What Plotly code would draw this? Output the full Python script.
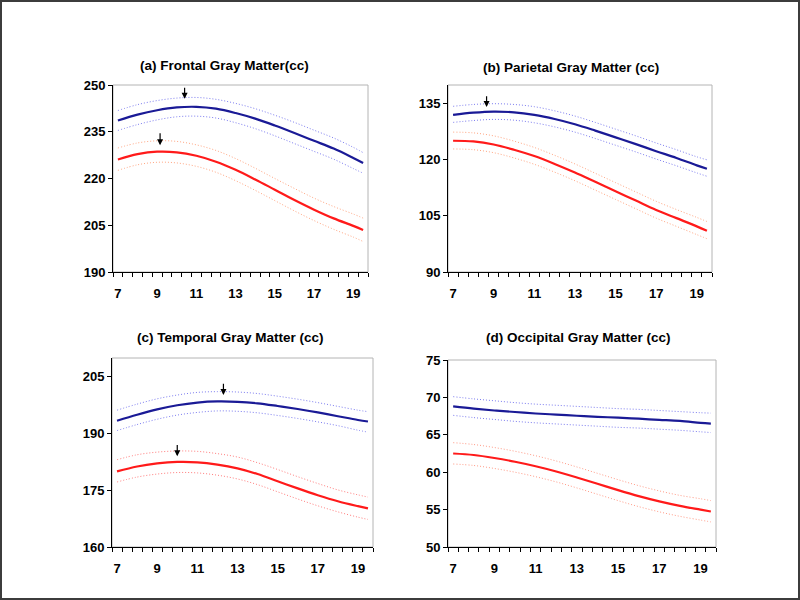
import plotly.graph_objects as go

# ---------------- data ----------------
ages = [7, 8, 9, 10, 11, 12, 13, 14, 15, 16, 17, 18, 19, 19.5]

# (a) Frontal
a_blue = [238.6, 240.5, 241.9, 242.8, 243.0, 242.4, 241.0, 239.2, 237.0, 234.6, 232.1, 229.6, 226.6, 225.0]
a_blue_hi = [241.8, 243.7, 245.0, 245.8, 246.0, 245.4, 244.1, 242.4, 240.3, 238.0, 235.5, 233.0, 230.0, 228.3]
a_blue_lo = [235.4, 237.3, 238.8, 239.8, 240.0, 239.4, 237.9, 236.0, 233.7, 231.2, 228.7, 226.2, 223.2, 221.7]
a_red = [226.1, 227.8, 228.6, 228.4, 227.3, 225.4, 222.8, 219.7, 216.4, 213.1, 210.0, 207.2, 204.8, 203.5]
a_red_hi = [229.8, 231.4, 232.1, 231.9, 230.8, 229.0, 226.4, 223.3, 220.0, 216.8, 213.7, 211.0, 208.6, 207.3]
a_red_lo = [222.6, 224.4, 225.2, 225.0, 223.9, 222.0, 219.3, 216.2, 212.9, 209.6, 206.5, 203.7, 201.2, 199.8]

# (b) Parietal
b_blue = [132.0, 132.6, 132.9, 132.7, 132.0, 130.9, 129.5, 127.8, 126.0, 124.2, 122.3, 120.5, 118.5, 117.6]
b_blue_hi = [134.3, 134.8, 135.0, 134.8, 134.2, 133.1, 131.7, 130.0, 128.2, 126.4, 124.5, 122.7, 120.8, 120.0]
b_blue_lo = [130.0, 130.5, 130.8, 130.6, 129.9, 128.8, 127.4, 125.7, 123.9, 122.1, 120.2, 118.4, 116.5, 115.6]
b_red = [125.1, 124.9, 124.1, 122.7, 121.0, 118.9, 116.6, 114.1, 111.6, 109.1, 106.6, 104.4, 102.2, 101.0]
b_red_hi = [127.4, 127.2, 126.4, 125.0, 123.3, 121.2, 118.9, 116.4, 113.9, 111.4, 108.9, 106.7, 104.6, 103.5]
b_red_lo = [122.9, 122.7, 121.9, 120.5, 118.8, 116.7, 114.4, 111.9, 109.4, 106.9, 104.4, 102.2, 100.0, 98.9]

# (c) Temporal
c_blue = [193.4, 195.0, 196.4, 197.5, 198.2, 198.5, 198.4, 198.0, 197.3, 196.5, 195.6, 194.6, 193.6, 193.2]
c_blue_hi = [196.2, 197.8, 199.2, 200.2, 200.9, 201.1, 201.0, 200.6, 199.9, 199.1, 198.2, 197.2, 196.2, 195.8]
c_blue_lo = [190.8, 192.4, 193.8, 194.9, 195.6, 196.0, 195.9, 195.5, 194.8, 194.0, 193.1, 192.1, 190.9, 190.4]
c_red = [180.0, 181.3, 182.1, 182.5, 182.4, 181.8, 180.8, 179.3, 177.4, 175.5, 173.7, 172.1, 170.8, 170.2]
c_red_hi = [183.1, 184.4, 185.1, 185.4, 185.3, 184.7, 183.8, 182.3, 180.5, 178.6, 176.8, 175.1, 173.8, 173.2]
c_red_lo = [177.2, 178.5, 179.3, 179.7, 179.6, 179.0, 178.0, 176.5, 174.6, 172.7, 170.9, 169.3, 167.9, 167.3]

# (d) Occipital
d_blue = [68.8, 68.5, 68.25, 68.05, 67.85, 67.7, 67.55, 67.4, 67.3, 67.15, 67.0, 66.85, 66.6, 66.5]
d_blue_hi = [70.1, 69.8, 69.55, 69.3, 69.1, 68.95, 68.8, 68.65, 68.5, 68.4, 68.25, 68.1, 67.95, 67.9]
d_blue_lo = [67.6, 67.3, 67.05, 66.8, 66.6, 66.45, 66.3, 66.15, 66.0, 65.9, 65.75, 65.6, 65.4, 65.3]
d_red = [62.5, 62.3, 61.9, 61.4, 60.8, 60.1, 59.3, 58.45, 57.6, 56.8, 56.1, 55.5, 55.0, 54.75]
d_red_hi = [63.95, 63.7, 63.3, 62.8, 62.2, 61.5, 60.7, 59.85, 59.0, 58.2, 57.5, 56.9, 56.45, 56.2]
d_red_lo = [61.1, 60.9, 60.5, 60.0, 59.4, 58.7, 57.9, 57.05, 56.2, 55.4, 54.7, 54.1, 53.6, 53.35]

titles = ["(a) Frontal Gray Matter(cc)", "(b) Parietal Gray Matter (cc)",
          "(c) Temporal Gray Matter (cc)", "(d) Occipital Gray Matter (cc)"]
x_tick_labels = [7, 9, 11, 13, 15, 17, 19]
y_ticks = [[190, 205, 220, 235, 250], [90, 105, 120, 135],
           [160, 175, 190, 205], [50, 55, 60, 65, 70, 75]]
y_ranges = [[190, 250], [90, 140], [160, 210], [50, 75]]

# peak arrows: panel, age at tip, value at tip, value at tail
arrow_age = [10.4, 9.15, 8.65, 12.3, 10.0]
arrow_tip = [245.6, 230.7, 134.1, 200.2, 184.0]
arrow_tail = [249.6, 235.0, 137.4, 203.6, 187.4]
arrow_panel = [0, 0, 1, 2, 2]

# ---------------- styling / layout ----------------
W, H = 800, 600
FONT = "Liberation Sans, Arial, sans-serif"
BLUE = "#1a1a96"
RED = "#ff1a1a"
BLUE_CI = "#7c7cf0"
RED_CI = ["#ffa682", "#ffa682", "#ff7c7c", "#ff9a86"]
DOT = "1px,2px"

# plot boxes in pixels: left, right, top, bottom
boxes = [(113, 368, 85, 272), (448, 712, 85, 272), (112, 373, 358, 547), (448, 716, 360, 547)]
title_pos = [(224.5, 65), (571, 67), (230.5, 337), (578, 337)]

panels = [
    (a_blue, a_blue_hi, a_blue_lo, a_red, a_red_hi, a_red_lo),
    (b_blue, b_blue_hi, b_blue_lo, b_red, b_red_hi, b_red_lo),
    (c_blue, c_blue_hi, c_blue_lo, c_red, c_red_hi, c_red_lo),
    (d_blue, d_blue_hi, d_blue_lo, d_red, d_red_hi, d_red_lo),
]

fig = go.Figure()
layout = dict(
    width=W, height=H, margin=dict(l=0, r=0, t=0, b=0, autoexpand=False),
    paper_bgcolor="white", plot_bgcolor="white", showlegend=False,
    font=dict(family=FONT, color="black"),
)
shapes = []
annotations = []

for i, (bl, bh, blo, rd, rh, rlo) in enumerate(panels):
    n = "" if i == 0 else str(i + 1)
    xa, ya = "x" + n, "y" + n
    l, r, t, b = boxes[i]
    for ys, col, dash, w in [
        (bh, BLUE_CI, DOT, 1), (blo, BLUE_CI, DOT, 1),
        (rh, RED_CI[i], DOT, 1), (rlo, RED_CI[i], DOT, 1),
        (bl, BLUE, "solid", 2.2), (rd, RED, "solid", 2.2),
    ]:
        fig.add_trace(go.Scatter(
            x=ages, y=ys, mode="lines", xaxis=xa, yaxis=ya,
            line=dict(color=col, width=w, dash=dash, shape="spline", smoothing=1),
            hoverinfo="skip"))
    layout["xaxis" + n] = dict(
        domain=[l / W, r / W], anchor=ya, range=[6.75, 19.75], automargin=False,
        tickmode="array", tickvals=x_tick_labels, ticktext=[str(v) for v in x_tick_labels],
        ticks="outside", ticklen=9, tickcolor="rgba(0,0,0,0)",
        showgrid=False, zeroline=False,
        showline=True, linecolor="black", linewidth=1,
        tickfont=dict(family=FONT, size=13, weight="bold"),
        minor=dict(tickmode="linear", tick0=6.75, dtick=0.5, ticks="outside",
                   ticklen=4, tickcolor="black", tickwidth=1, showgrid=False),
    )
    layout["yaxis" + n] = dict(
        domain=[1 - b / H, 1 - t / H], anchor=xa, range=y_ranges[i], automargin=False,
        tickmode="array", tickvals=y_ticks[i],
        ticks="outside", ticklen=4, tickcolor="black", tickwidth=1,
        showgrid=False, zeroline=False,
        showline=True, linecolor="black", linewidth=1,
        tickfont=dict(family=FONT, size=13, weight="bold"),
    )
    shapes.append(dict(type="rect", xref=xa + " domain", yref=ya + " domain",
                       x0=0, x1=1, y0=0, y1=1, line=dict(color="#b4b4b4", width=1),
                       layer="below"))
    tx, ty = title_pos[i]
    annotations.append(dict(text="<b>" + titles[i] + "</b>", x=tx / W, y=1 - ty / H,
                            xref="paper", yref="paper", showarrow=False,
                            xanchor="center", yanchor="middle",
                            font=dict(family=FONT, size=13.5, color="black")))

for k in range(len(arrow_age)):
    p = arrow_panel[k]
    n = "" if p == 0 else str(p + 1)
    annotations.append(dict(
        x=arrow_age[k], y=arrow_tip[k], ax=arrow_age[k], ay=arrow_tail[k],
        xref="x" + n, yref="y" + n, axref="x" + n, ayref="y" + n,
        showarrow=True, arrowhead=2, arrowsize=1, arrowwidth=1.2,
        arrowcolor="black", text=""))

# outer frame of the picture
shapes.append(dict(type="rect", xref="paper", yref="paper",
                   x0=1 / W, x1=1 - 1 / W, y0=1 / H, y1=1 - 1 / H,
                   line=dict(color="#3c3c3c", width=2)))

layout["shapes"] = shapes
layout["annotations"] = annotations
fig.update_layout(**layout)
fig.write_html("out.html", config={"displayModeBar": False},
               post_script="document.body.style.margin='0';document.body.style.overflow='hidden';")
